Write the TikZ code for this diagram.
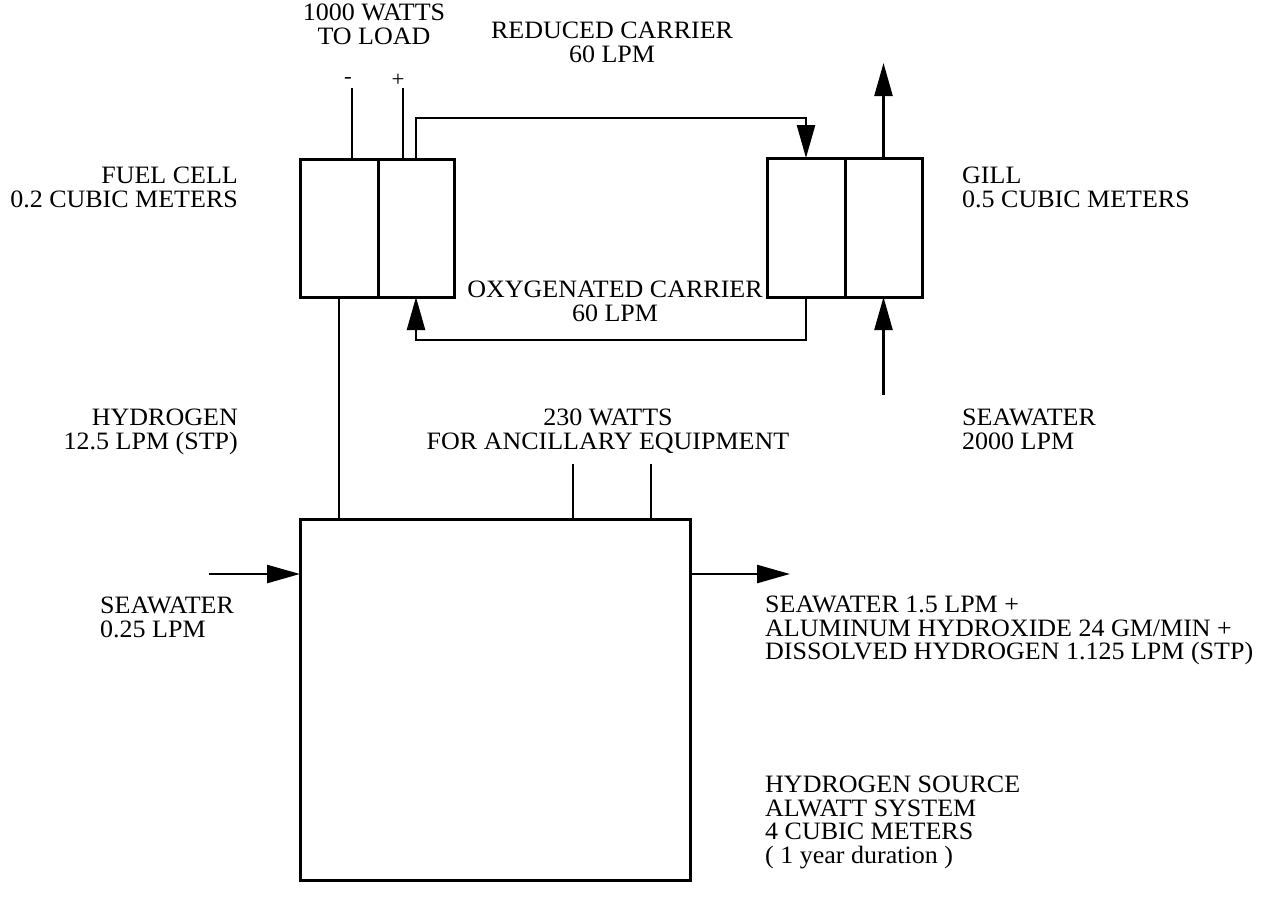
\documentclass[tikz,border=0pt]{standalone}
\usepackage{fontspec}
\setmainfont{Liberation Serif}[FakeStretch=1.04]
\usetikzlibrary{arrows.meta,calc}
\begin{document}
\begin{tikzpicture}[x=1pt,y=-1pt,
  box/.style={draw,line width=3pt,inner sep=0pt,outer sep=0pt},
  wire/.style={line width=2.4pt},
  arr/.style={line width=2.4pt,-{Triangle[length=33pt,width=18pt]}},
  lbl/.style={inner sep=0pt,font=\fontsize{25}{23.5}\selectfont},
  sgn/.style={inner sep=0pt,font=\fontsize{22}{22}\selectfont}]
\useasboundingbox (0,0) rectangle (1271,903);
% boxes
\node[box,minimum width=78pt,minimum height=138pt] (fcL) at (339,228) {};
\node[box,minimum width=76pt,minimum height=138pt] (fcR) at (416,228) {};
\node[box,minimum width=78pt,minimum height=139pt] (gL) at (806,227.5) {};
\node[box,minimum width=77pt,minimum height=139pt] (gR) at (883.5,227.5) {};
\node[box,minimum width=390pt,minimum height=361pt] (src) at (495,699.5) {};
% coordinates for free ends
\coordinate (mneg) at (352,88);
\coordinate (mpos) at (403,88);
\coordinate (rtop) at (0,118);
\coordinate (rbot) at (0,340);
\coordinate (gout) at (0,63);
\coordinate (swg) at (0,395);
\coordinate (aux1) at (573,464);
\coordinate (aux2) at (651,464);
\coordinate (swin) at (209,574);
\coordinate (swout) at (790,574);
% connectors
\draw[wire] (mneg) -- (mneg |- fcL.north);
\draw[wire] (mpos) -- (mpos |- fcR.north);
\draw[arr] (fcR.north) -- (fcR.north |- rtop) -- (gL.north |- rtop) -- (gL.north);
\draw[arr] (gL.south) -- (gL.south |- rbot) -- (fcR.south |- rbot) -- (fcR.south);
\draw[arr] (gR.north) -- (gR.north |- gout);
\draw[arr] (gR.south |- swg) -- (gR.south);
\draw[wire] (fcL.south) -- (fcL.south |- src.north);
\draw[wire] (aux1) -- (aux1 |- src.north);
\draw[wire] (aux2) -- (aux2 |- src.north);
\draw[arr] (swin) -- (swin -| src.west);
\draw[arr] (swout -| src.east) -- (swout);
% labels
\node[lbl,anchor=north,align=center] (t1) at (374,4) {1000 WATTS\\TO LOAD};
\node[sgn] (sneg) at (348,80) {-};
\node[sgn] (spos) at (398,80) {+};
\node[lbl,anchor=north,align=center] (t2) at (612,22) {REDUCED CARRIER\\60 LPM};
\node[lbl,anchor=north east,align=right] (t3) at (238,167) {FUEL CELL\\0.2 CUBIC METERS};
\node[lbl,anchor=north west,align=left] (t4) at (962,167) {GILL\\0.5 CUBIC METERS};
\node[lbl,anchor=north,align=center] (t5) at (615,281) {OXYGENATED CARRIER\\60 LPM};
\node[lbl,anchor=north east,align=right] (t6) at (238,409) {HYDROGEN\\12.5 LPM (STP)};
\node[lbl,anchor=north,align=center] (t7) at (608,409) {230 WATTS\\FOR ANCILLARY EQUIPMENT};
\node[lbl,anchor=north west,align=left] (t8) at (962,409) {SEAWATER\\2000 LPM};
\node[lbl,anchor=north west,align=left] (t9) at (100,597) {SEAWATER\\0.25 LPM};
\node[lbl,anchor=north west,align=left] (t10) at (765,596) {SEAWATER 1.5 LPM +\\ALUMINUM HYDROXIDE 24 GM/MIN +\\DISSOLVED HYDROGEN 1.125 LPM (STP)};
\node[lbl,anchor=north west,align=left] (t11) at (765,776) {HYDROGEN SOURCE\\ALWATT SYSTEM\\4 CUBIC METERS\\( 1 year duration )};
\end{tikzpicture}
\end{document}
